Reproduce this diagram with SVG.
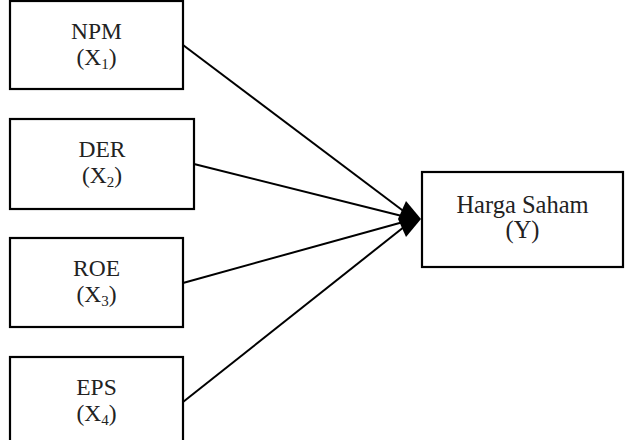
<svg xmlns="http://www.w3.org/2000/svg" width="632" height="440" viewBox="0 0 632 440">
<style>
.box{fill:#fff;stroke:#000;stroke-width:2.2}
.t{font-family:"Liberation Serif","Times New Roman",serif;font-size:23.5px;fill:#222;text-anchor:middle}
.s{font-size:15px}
.c{stroke:#000;stroke-width:2;fill:none}
</style>
<rect width="632" height="440" fill="#fff"/>
<g id="npm">
<rect class="box" x="10" y="1" width="173" height="88"/>
<text class="t" x="96.5" y="39">NPM</text>
<text class="t" x="96.5" y="65">(X<tspan class="s" dy="4">1</tspan><tspan dy="-4">)</tspan></text>
</g>
<g id="der">
<rect class="box" x="10" y="119" width="184" height="90"/>
<text class="t" x="102" y="157">DER</text>
<text class="t" x="102" y="183">(X<tspan class="s" dy="4">2</tspan><tspan dy="-4">)</tspan></text>
</g>
<g id="roe">
<rect class="box" x="10" y="238" width="173" height="89"/>
<text class="t" x="96.5" y="276">ROE</text>
<text class="t" x="96.5" y="302">(X<tspan class="s" dy="4">3</tspan><tspan dy="-4">)</tspan></text>
</g>
<g id="eps">
<rect class="box" x="10" y="357" width="173" height="90"/>
<text class="t" x="96.5" y="395">EPS</text>
<text class="t" x="96.5" y="421">(X<tspan class="s" dy="4">4</tspan><tspan dy="-4">)</tspan></text>
</g>
<g id="harga">
<rect class="box" x="422" y="172" width="201" height="95"/>
<text class="t" x="522.5" y="213" style="font-size:24.5px">Harga Saham</text>
<text class="t" x="522.5" y="238" style="font-size:24.5px">(Y)</text>
</g>
<g id="connectors">
<line class="c" x1="183" y1="45" x2="414" y2="219"/>
<line class="c" x1="194" y1="164" x2="414" y2="219"/>
<line class="c" x1="183" y1="283" x2="414" y2="219"/>
<line class="c" x1="183" y1="402" x2="414" y2="219"/>
<polygon points="398,219 406,201 421,219 406,237" fill="#000"/>
</g>
</svg>
